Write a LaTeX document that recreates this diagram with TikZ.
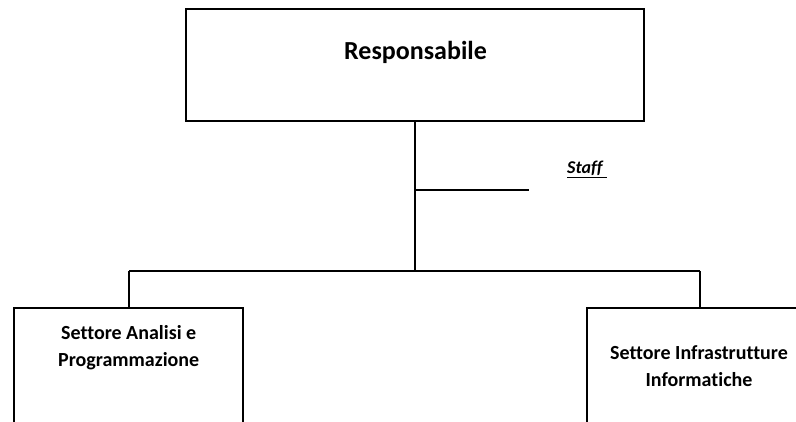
\documentclass[tikz,border=0pt]{standalone}
\usepackage{fontspec}
\setmainfont{Carlito}[Ligatures=NoCommon]
\tikzset{
  box/.style={draw=black, line width=2pt, inner sep=0pt},
  conn/.style={draw=black, line width=2pt},
  lbl/.style={font=\bfseries\fontsize{20}{27}\selectfont, align=center, inner sep=0pt, anchor=base},
}
\begin{document}
\begin{tikzpicture}[x=1pt,y=1pt]
\useasboundingbox (0,0) rectangle (796,422);
\clip (0,0) rectangle (796,422);
% top box
\node[box, minimum width=458pt, minimum height=112pt] (top) at (415,357) {};
\node[font=\bfseries\fontsize{26}{30}\selectfont, inner sep=0pt, anchor=base] (toplbl) at (415.5,362.7) {Responsabile};
% lower boxes (extend beyond the page)
\node[box, minimum width=229pt, minimum height=160pt] (left) at (128.5,34) {};
\node[box, minimum width=260pt, minimum height=160pt] (right) at (717,34) {};
\node[lbl] (leftlbl) at (128.7,55) {Settore Analisi e\\Programmazione};
\node[lbl] (rightlbl) at (699,35) {Settore Infrastrutture\\Informatiche};
% staff
\node[font=\bfseries\itshape\fontsize{18}{22}\selectfont, inner sep=0pt, anchor=base west] (staff) at (567,248) {\underline{Staff\kern4pt}};
% connectors
\coordinate (bus) at (415,151);
\coordinate (busl) at (129,151);
\coordinate (busr) at (700,151);
\coordinate (stf) at (415,232);
\coordinate (stfend) at (529,232);
\draw[conn] (top.south) -- (bus);
\draw[conn] (busl) -- (busr);
\draw[conn] (busl) -- (busl |- left.north);
\draw[conn] (busr) -- (busr |- right.north);
\draw[conn] (stf) -- (stfend);
\end{tikzpicture}
\end{document}
